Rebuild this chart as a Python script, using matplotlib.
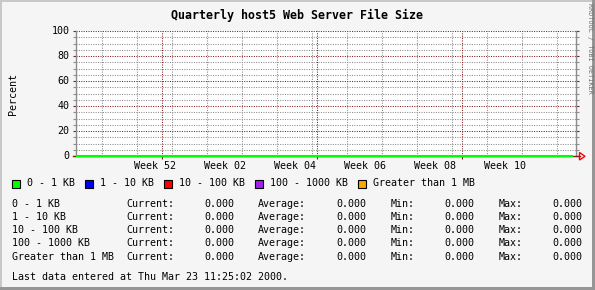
import datetime as dt
import matplotlib
matplotlib.use('Agg')
import matplotlib.pyplot as plt
import matplotlib.dates as mdates
from matplotlib.patches import Rectangle, Polygon

plt.rcParams['font.family'] = 'DejaVu Sans Mono'

# data
title = "Quarterly host5 Web Server File Size"
categories = ["0 - 1 KB", "1 - 10 KB", "10 - 100 KB", "100 - 1000 KB", "Greater than 1 MB"]
colors = ['#00FF00', '#0000FF', '#FF0000', '#A020F0', '#FFA500']
current = [0.0, 0.0, 0.0, 0.0, 0.0]
average = [0.0, 0.0, 0.0, 0.0, 0.0]
minimum = [0.0, 0.0, 0.0, 0.0, 0.0]
maximum = [0.0, 0.0, 0.0, 0.0, 0.0]
times = [dt.datetime(1999, 12, 15, 0, 0), dt.datetime(2000, 3, 23, 0, 0)]
values = [0.0, 0.0]
week_labels = ["Week 52", "Week 02", "Week 04", "Week 06", "Week 08", "Week 10"]
week_starts = [dt.datetime(1999, 12, 27), dt.datetime(2000, 1, 10), dt.datetime(2000, 1, 24),
               dt.datetime(2000, 2, 7), dt.datetime(2000, 2, 21), dt.datetime(2000, 3, 6)]
month_starts = [dt.datetime(2000, 1, 1), dt.datetime(2000, 2, 1), dt.datetime(2000, 3, 1)]
last_update = "Last data entered at Thu Mar 23 11:25:02 2000."

W, H = 595, 290
BACK = '#F5F5F5'
GRID = '#8C8C8C'
MGRID = '#821E1E'

fig = plt.figure(figsize=(W / 100, H / 100), dpi=100, facecolor=BACK)

def fx(px):
    return px / W

def fy(py):
    return 1 - py / H

# 3d border
fig.patches.append(Rectangle((0, fy(2)), 1, 2 / H, transform=fig.transFigure, color='#C8C8C8', lw=0))
fig.patches.append(Rectangle((0, 0), 2 / W, 1, transform=fig.transFigure, color='#C8C8C8', lw=0))
fig.patches.append(Rectangle((fx(592), 0), 3 / W, 1, transform=fig.transFigure, color='#969696', lw=0))
fig.patches.append(Rectangle((0, 0), 1, 3 / H, transform=fig.transFigure, color='#969696', lw=0))

# plot area: x 75.5..575.5, y 31..156
ax = fig.add_axes([fx(75.5), fy(156), 500 / W, 125 / H])
ax.set_facecolor('white')
end = dt.datetime(2000, 3, 23, 16, 40)
start = end - dt.timedelta(days=100)
ax.set_xlim(start, end)
ax.set_ylim(0, 100)

for s in ['top', 'bottom']:
    ax.spines[s].set_visible(False)
for s in ['left', 'right']:
    ax.spines[s].set_color(GRID)
    ax.spines[s].set_linewidth(1.0)

dot = (0, (1, 1.3))
# horizontal grid
for v in range(5, 101, 5):
    if v % 20 == 0:
        ax.axhline(v, color=MGRID, lw=0.75, ls=dot, zorder=2, snap=True)
    else:
        ax.axhline(v, color=GRID, lw=0.75, ls=dot, zorder=1, snap=True)
# vertical grid: weeks (Mondays) and months
mondays = mdates.drange(dt.datetime(1999, 12, 20), end, dt.timedelta(days=7))
for d in mondays:
    ax.axvline(d, color=GRID, lw=0.75, ls=dot, zorder=1, snap=True)
for d in month_starts:
    ax.axvline(d, color=MGRID, lw=0.75, ls=dot, zorder=2, snap=True)

# tick marks
ax.set_yticks(range(0, 101, 20))
ax.set_yticks(range(0, 101, 5), minor=True)
ax.tick_params(axis='y', which='major', length=2, width=0.8, color=MGRID, labelleft=False,
               left=True, right=True)
ax.tick_params(axis='y', which='minor', length=2, width=0.8, color=GRID, left=True, right=True)
ax.set_xticks(month_starts)
ax.xaxis.set_minor_locator(plt.NullLocator())
ax.tick_params(axis='x', which='major', length=2, width=0.8, color=MGRID, labelbottom=False)

# y labels
for v in range(0, 101, 20):
    ax.text(-0.012, v, str(v), transform=ax.get_yaxis_transform(), ha='right', va='center',
            fontsize=7.2)
# week labels
for lab, ws in zip(week_labels, week_starts):
    ax.text(ws + dt.timedelta(days=3.5), -0.08, lab, transform=ax.get_xaxis_transform(),
            ha='center', va='center', fontsize=7.2)

# x axis line, then data line on top
ax.axhline(0, xmin=-0.005, xmax=1.008, color=MGRID, lw=1.0, zorder=3, clip_on=False)
ax.plot(times, values, color=colors[0], lw=1.5, zorder=5, clip_on=False)
fig.add_artist(Polygon([(fx(579.5), fy(152.5)), (fx(585), fy(156.3)), (fx(579.5), fy(160))],
                       closed=True, fill=False, edgecolor='#FF0000', lw=1,
                       transform=fig.transFigure))

# title and axis label
fig.text(fx(297), fy(15), title, ha='center', va='center', fontsize=8.4, fontweight='bold')
fig.text(fx(13), fy(94), "Percent", rotation=90, ha='center', va='center', fontsize=7.2)
fig.text(fx(590), fy(48), "RRDTOOL / TOBI OETIKER", rotation=270, ha='center', va='center',
         fontsize=4.9, color='#707070')

# legend row
leg_x = [12, 85, 164, 255, 358]
for lx, lab, c in zip(leg_x, categories, colors):
    fig.patches.append(Rectangle((fx(lx), fy(187.5)), 8 / W, 8 / H, transform=fig.transFigure,
                                 facecolor=c, edgecolor='black', lw=0.8))
    fig.text(fx(lx + 15), fy(183.5), lab, ha='left', va='center', fontsize=7.2)

# stats table
row_y = [204, 217, 230, 243, 256.5]
for i, lab in enumerate(categories):
    y = fy(row_y[i])
    fig.text(fx(12), y, lab, ha='left', va='center', fontsize=7.2)
    fig.text(fx(126), y, "Current:", ha='left', va='center', fontsize=7.2)
    fig.text(fx(234), y, f"{current[i]:.3f}", ha='right', va='center', fontsize=7.2)
    fig.text(fx(258), y, "Average:", ha='left', va='center', fontsize=7.2)
    fig.text(fx(366), y, f"{average[i]:.3f}", ha='right', va='center', fontsize=7.2)
    fig.text(fx(391), y, "Min:", ha='left', va='center', fontsize=7.2)
    fig.text(fx(474), y, f"{minimum[i]:.3f}", ha='right', va='center', fontsize=7.2)
    fig.text(fx(499), y, "Max:", ha='left', va='center', fontsize=7.2)
    fig.text(fx(582), y, f"{maximum[i]:.3f}", ha='right', va='center', fontsize=7.2)

fig.text(fx(12), fy(277), last_update, ha='left', va='center', fontsize=7.2)

fig.savefig('out.png', dpi=100, facecolor=BACK)
